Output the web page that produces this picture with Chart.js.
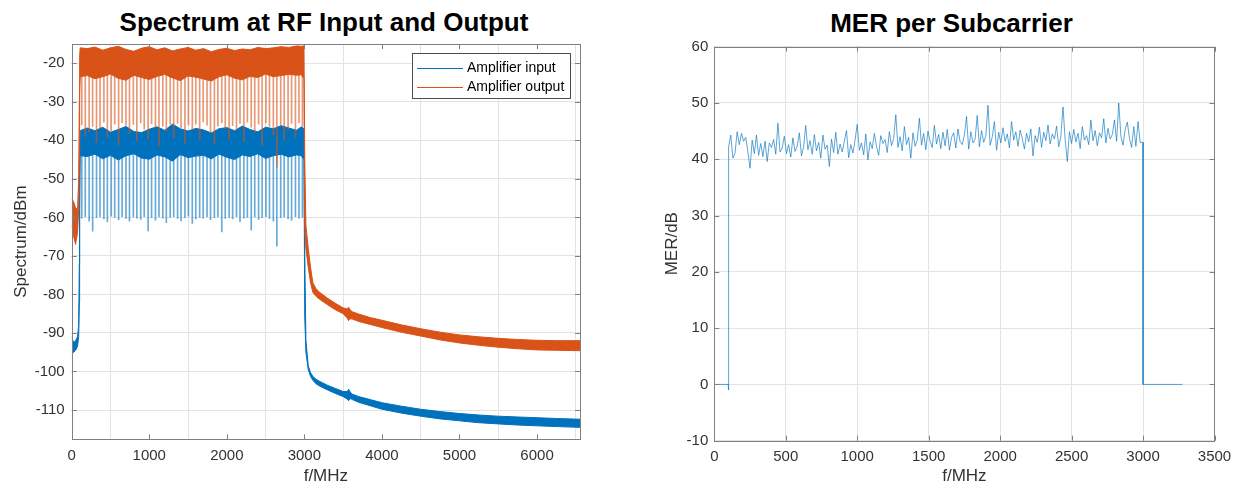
<!DOCTYPE html>
<html>

<head>
    <meta charset="UTF-8" />
    <title>Spectrum and MER</title>
    <style>
        body {
            margin: 0;
            background: #fff;
            width: 1239px;
            height: 487px;
            position: relative;
            overflow: hidden;
            font-family: "Liberation Sans", Arial, sans-serif;
        }
        .plotTitle {
            position: absolute;
            font-weight: bold;
            font-size: 26px;
            line-height: 1;
            color: #000;
            white-space: nowrap;
            transform: translate(-50%, -50%);
        }
        #specCanvas { position: absolute; left: 0; top: 0; }
        #merCanvas { position: absolute; left: 620px; top: 0; }
    </style>
</head>

<body>
    <div class="plotTitle" style="left:324px; top:21.7px;">Spectrum at RF Input and Output</div>
    <div class="plotTitle" style="left:951.5px; top:23.3px;">MER per Subcarrier</div>
    <canvas id="specCanvas" width="620" height="487"></canvas>
    <canvas id="merCanvas" width="619" height="487"></canvas>
    <script src="https://cdn.jsdelivr.net/npm/chart.js@4.4.1/dist/chart.umd.min.js"></script>
    <script>
        // ---- left plot: spectrum (dBm) ----
        const specXTicks = [0, 1000, 2000, 3000, 4000, 5000, 6000];
        const specYTicks = [-110, -100, -90, -80, -70, -60, -50, -40, -30, -20];

        // frequencies (MHz) where the band edges were read
        const specFreq = [0, 25, 50, 75, 90, 98, 102, 110,
            200, 300, 400, 500, 600, 700, 800, 900, 1000, 1100, 1200, 1300, 1400, 1500,
            1600, 1700, 1800, 1900, 2000, 2100, 2200, 2300, 2400, 2500, 2600, 2700, 2800, 2900,
            2960, 2995,
            3005, 3020, 3050, 3080, 3110, 3150, 3200, 3300, 3400, 3500, 3555, 3570, 3590, 3620,
            3700, 3850, 4000, 4250, 4500, 4750, 5000, 5250, 5500, 5750, 6000, 6250, 6554];

        // amplifier input: upper / lower edge of the trace
        const inputTop = [-91.0, -92.5, -92.0, -91.0, -88.0, -72.0, -45.0, -37.5,
            -36.8, -37.5, -36.6, -37.9, -37.2, -36.4, -37.7, -38.0, -37.1, -36.5, -37.4, -35.8, -37.0, -37.6,
            -36.9, -37.3, -38.1, -37.0, -36.7, -37.5, -36.3, -37.2, -37.8, -36.6, -37.0, -36.2, -36.8, -37.4,
            -36.5, -37.0,
            -70.0, -92.0, -98.5, -100.3, -101.3, -102.0, -102.6, -103.6, -104.4, -105.2, -105.2, -104.6, -105.3, -105.9,
            -106.5, -107.3, -108.1, -109.0, -109.8, -110.4, -110.9, -111.3, -111.6, -111.8, -112.0, -112.2, -112.4];
        const inputBottom = [-95.5, -95.0, -94.5, -93.5, -91.0, -82.0, -58.0, -44.0,
            -44.2, -43.6, -44.8, -43.9, -45.1, -44.0, -43.5, -44.6, -44.9, -43.8, -44.3, -45.4, -43.7, -44.5,
            -44.1, -43.9, -44.8, -43.6, -44.4, -45.0, -43.8, -44.2, -43.5, -44.7, -44.0, -43.6, -44.3, -43.8,
            -44.0, -45.0,
            -86.0, -95.0, -99.5, -101.3, -102.3, -103.2, -103.8, -104.8, -105.7, -106.5, -107.2, -107.6, -107.0, -107.3,
            -108.0, -108.9, -109.8, -110.8, -111.6, -112.3, -112.8, -113.3, -113.6, -113.9, -114.1, -114.3, -114.5];

        // amplifier output: upper / lower edge of the trace
        const outputTop = [-55.0, -56.0, -57.5, -58.0, -50.0, -30.0, -18.0, -16.0,
            -16.2, -15.8, -16.6, -16.0, -15.6, -16.4, -16.9, -16.1, -15.7, -16.5, -16.0, -16.8, -16.3, -15.9,
            -16.6, -16.2, -17.0, -16.4, -16.1, -16.7, -16.3, -16.5, -15.9, -16.2, -16.0, -15.7, -15.9, -15.5,
            -15.6, -15.5,
            -45.0, -62.0, -68.0, -73.0, -77.0, -78.5, -79.5, -81.0, -82.3, -83.5, -83.8, -83.3, -84.0, -84.5,
            -85.1, -86.0, -86.7, -87.9, -88.9, -89.8, -90.5, -91.0, -91.4, -91.7, -91.9, -92.0, -92.0];
        const outputBottom = [-62.0, -65.0, -67.0, -64.0, -58.0, -45.0, -28.0, -23.5,
            -23.2, -24.0, -23.5, -22.8, -23.9, -24.4, -23.1, -23.7, -24.2, -23.4, -22.9, -23.8, -24.5, -23.3,
            -23.6, -24.1, -24.6, -23.5, -23.0, -23.9, -24.3, -23.4, -23.7, -22.8, -23.5, -23.2, -22.9, -23.1,
            -23.0, -24.0,
            -62.0, -68.0, -73.0, -77.0, -79.5, -80.5, -81.3, -82.7, -84.0, -85.0, -86.2, -86.8, -86.3, -86.4,
            -87.0, -87.8, -88.6, -89.8, -90.8, -91.8, -92.6, -93.2, -93.7, -94.1, -94.4, -94.5, -94.6];

        // narrow notches inside the band
        const spikeFreq = [130, 175, 225, 270, 320, 365, 415, 460, 510, 555,
            605, 650, 700, 745, 795, 840, 890, 935, 985, 1030,
            1080, 1125, 1175, 1220, 1270, 1315, 1365, 1410, 1460, 1505,
            1555, 1600, 1650, 1695, 1745, 1790, 1840, 1885, 1935, 1980,
            2030, 2075, 2125, 2170, 2220, 2265, 2315, 2360, 2410, 2455,
            2505, 2550, 2600, 2645, 2695, 2740, 2790, 2835, 2885, 2930, 2975];
        const inputSpikeLow = [-60.2, -59.8, -61.0, -63.6, -60.1, -59.9, -60.4, -61.2, -59.7, -60.0,
            -60.6, -59.8, -60.3, -61.0, -59.9, -60.2, -60.5, -59.8, -63.5, -60.1,
            -60.7, -59.9, -60.2, -61.4, -60.0, -59.8, -60.3, -60.9, -60.1, -59.7,
            -61.6, -60.4, -60.0, -60.2, -59.8, -60.6, -60.1, -59.9, -63.8, -60.3,
            -60.0, -60.4, -59.8, -61.1, -60.2, -60.0, -63.3, -59.9, -60.5, -60.1,
            -59.8, -60.3, -61.0, -67.5, -60.1, -59.9, -60.4, -60.8, -59.8, -60.2, -60.0];
        const outputSpikeLow = [-36.0, -38.9, -37.8, -36.4, -40.6, -36.9, -35.3, -39.2, -37.5, -35.8,
            -41.2, -35.4, -36.1, -38.2, -35.9, -40.1, -35.5, -37.1, -39.6, -35.7,
            -36.8, -41.5, -36.4, -37.6, -35.9, -39.4, -35.6, -36.7, -40.8, -36.0,
            -37.3, -35.8, -39.9, -35.2, -36.1, -38.0, -41.0, -36.3, -35.5, -36.9,
            -39.7, -36.2, -37.4, -35.6, -40.4, -35.3, -36.6, -37.9, -35.8, -41.3,
            -35.5, -36.4, -38.7, -47.0, -36.2, -40.0, -37.2, -35.6, -39.1, -35.4, -36.3];

        const seriesNames = ['Amplifier input', 'Amplifier output'];

        // ---- right plot: MER per subcarrier (dB) ----
        const merXTicks = [0, 500, 1000, 1500, 2000, 2500, 3000, 3500];
        const merYTicks = [-10, 0, 10, 20, 30, 40, 50, 60];
        const merStartMHz = 100;
        const merStepMHz = 15;
        const merValues = [
            42.2, 44.3, 40.2, 41.1, 44.9, 42.6, 44.6, 43.2, 43.9, 41.3,
            38.4, 43.4, 41.0, 44.3, 40.7, 42.8, 40.5, 43.2, 39.6, 42.9,
            42.1, 43.5, 40.9, 46.4, 41.3, 42.0, 44.1, 41.0, 42.6, 40.4,
            43.8, 41.4, 42.3, 44.7, 40.6, 42.2, 46.0, 41.7, 43.3, 40.9,
            44.4, 41.5, 43.0, 40.2, 44.3, 41.8, 42.5, 38.7, 43.6, 41.2,
            44.8, 40.9, 42.7, 41.3, 43.2, 45.1, 40.3, 42.6, 41.1, 43.4,
            46.2, 41.6, 42.9, 40.8, 44.5, 39.9, 43.1, 41.9, 44.6, 42.3,
            40.7, 44.2, 42.8, 43.5, 41.2, 44.9, 42.4, 43.7, 47.9, 42.1,
            44.0, 41.5, 45.8, 42.6, 43.9, 40.2, 44.7, 42.3, 43.4, 47.3,
            42.5, 44.6, 41.7, 45.0, 43.2, 42.1, 46.0, 42.7, 44.4, 41.9,
            44.8, 42.4, 45.3, 41.6, 43.9, 44.7, 42.0, 45.4, 43.1, 42.6,
            44.3, 47.6, 41.8, 44.9, 42.9, 43.6, 47.8, 42.2, 45.1, 43.0,
            44.2, 49.6, 42.5, 44.0, 46.7, 41.6, 44.8, 42.9, 45.6, 43.2,
            44.5, 42.0, 46.7, 43.4, 44.9, 42.3, 45.2, 43.7, 41.8, 44.6,
            43.1, 45.4, 40.6, 44.2, 43.0, 45.7, 42.1, 44.8, 43.3, 46.1,
            42.7, 44.5, 43.6, 45.9, 42.2, 44.1, 49.3, 43.5, 39.6, 44.9,
            42.8, 45.3, 43.1, 44.6, 41.9, 45.8, 43.4, 44.2, 42.6, 47.0,
            43.3, 45.1, 42.4, 44.7, 43.8, 47.2, 42.9, 45.5, 43.6, 44.4,
            47.0, 43.2, 50.0, 44.1, 42.5, 45.3, 46.6, 43.7, 42.1, 45.8,
            42.3, 46.7, 43.0, 43.0];
        // unused subcarriers on both sides of the band
        const merLeftFreq = [0, 97, 100];
        const merLeftValues = [0, 0, -1];
        const merRightFreq = [3000, 3000, 3275];
        const merRightValues = [43, 0, 0];

        const BLUE = '#0072BD';
        const ORANGE = '#D95319';
        const FONT = '"Liberation Sans", Arial, sans-serif';

        Chart.defaults.font.family = FONT;
        Chart.defaults.color = '#333';

        function xy(xs, ys) {
            return xs.map((x, i) => ({ x: x, y: ys[i] }));
        }

        // box round the plot area with inward tick marks on all four sides
        const frameTicks = {
            id: 'frameTicks',
            afterDatasetsDraw(chart) {
                const { ctx, chartArea: a, scales } = chart;
                ctx.save();
                ctx.strokeStyle = '#808080';
                ctx.lineWidth = 1;
                ctx.beginPath();
                scales.x.ticks.forEach(t => {
                    const px = Math.round(scales.x.getPixelForValue(t.value)) + 0.5;
                    ctx.moveTo(px, a.bottom); ctx.lineTo(px, a.bottom - 5);
                    ctx.moveTo(px, a.top); ctx.lineTo(px, a.top + 5);
                });
                scales.y.ticks.forEach(t => {
                    const py = Math.round(scales.y.getPixelForValue(t.value)) + 0.5;
                    ctx.moveTo(a.left, py); ctx.lineTo(a.left + 5, py);
                    ctx.moveTo(a.right, py); ctx.lineTo(a.right - 5, py);
                });
                ctx.stroke();
                ctx.strokeRect(Math.round(a.left) + 0.5, Math.round(a.top) + 0.5,
                    Math.round(a.right - a.left), Math.round(a.bottom - a.top));
                ctx.restore();
            }
        };

        // matlab style legend box in the top right corner
        const boxLegend = {
            id: 'boxLegend',
            afterDraw(chart) {
                const { ctx, chartArea: a } = chart;
                const items = seriesNames.map(n => chart.data.datasets.find(d => d.label === n));
                const w = 158, h = 45;
                const x = Math.round(a.right - 10 - w), y = Math.round(a.top + 9);
                ctx.save();
                ctx.fillStyle = '#fff';
                ctx.fillRect(x, y, w, h);
                ctx.strokeStyle = '#4d4d4d';
                ctx.lineWidth = 1;
                ctx.strokeRect(x + 0.5, y + 0.5, w, h);
                ctx.font = '14px ' + FONT;
                ctx.textBaseline = 'middle';
                items.forEach((d, i) => {
                    const ly = y + 15.5 + i * 19;
                    ctx.strokeStyle = d.borderColor;
                    ctx.beginPath();
                    ctx.moveTo(x + 5, ly); ctx.lineTo(x + 51, ly);
                    ctx.stroke();
                    ctx.fillStyle = '#000';
                    ctx.fillText(d.label, x + 55, ly);
                });
                ctx.restore();
            }
        };

        function axisX(min, max, tickList, height, tickPad, titleText) {
            return {
                type: 'linear', min: min, max: max, offset: false,
                afterBuildTicks: s => { s.ticks = tickList.map(v => ({ value: v })); },
                afterFit: s => { s.height = height; },
                grid: { color: '#e3e3e3', drawTicks: false },
                border: { display: false },
                ticks: { padding: tickPad, font: { size: 15 }, color: '#333', maxRotation: 0, autoSkip: false,
                    callback: v => String(v) },
                title: { display: true, text: titleText, color: '#333', font: { size: 17 },
                    padding: { top: 0, bottom: 0 } }
            };
        }

        function axisY(min, max, tickList, width, tickPad, titleText, titlePad) {
            return {
                type: 'linear', min: min, max: max,
                afterBuildTicks: s => { s.ticks = tickList.map(v => ({ value: v })); },
                afterFit: s => { s.width = width; },
                grid: { color: '#e3e3e3', drawTicks: false },
                border: { display: false },
                ticks: { padding: tickPad, font: { size: 15 }, color: '#333', autoSkip: false,
                    callback: v => String(v) },
                title: { display: true, text: titleText, color: '#333', font: { size: 17 },
                    padding: { top: titlePad, bottom: 0 } }
            };
        }

        const specChart = new Chart(document.getElementById('specCanvas'), {
            type: 'line',
            data: {
                datasets: [
                    {
                        label: 'output notches', type: 'bar', order: 0,
                        data: spikeFreq.map((f, i) => ({ x: f, y: [-23, outputSpikeLow[i]] })),
                        backgroundColor: 'rgba(217, 83, 25, 0.6)', barThickness: 1, grouped: false
                    },
                    {
                        label: seriesNames[1], order: 1, data: xy(specFreq, outputTop),
                        borderColor: ORANGE, backgroundColor: ORANGE, borderWidth: 1,
                        pointRadius: 0, fill: '+1'
                    },
                    {
                        label: 'output lower edge', order: 1, data: xy(specFreq, outputBottom),
                        borderColor: ORANGE, borderWidth: 1, pointRadius: 0, fill: false
                    },
                    {
                        label: 'input notches', type: 'bar', order: 2,
                        data: spikeFreq.map((f, i) => ({ x: f, y: [-43, inputSpikeLow[i]] })),
                        backgroundColor: 'rgba(0, 114, 189, 0.6)', barThickness: 1, grouped: false
                    },
                    {
                        label: seriesNames[0], order: 3, data: xy(specFreq, inputTop),
                        borderColor: BLUE, backgroundColor: BLUE, borderWidth: 1,
                        pointRadius: 0, fill: '+1'
                    },
                    {
                        label: 'input lower edge', order: 3, data: xy(specFreq, inputBottom),
                        borderColor: BLUE, borderWidth: 1, pointRadius: 0, fill: false
                    }
                ]
            },
            options: {
                responsive: false, animation: false, events: [],
                layout: { padding: { left: 0, right: 40, top: 44, bottom: 0 } },
                plugins: { legend: { display: false }, tooltip: { enabled: false }, title: { display: false } },
                scales: {
                    x: axisX(0, 6554, specXTicks, 47.7, 8, 'f/MHz'),
                    y: axisY(-117.6, -15, specYTicks, 71.7, 7, 'Spectrum/dBm', 11.5)
                }
            },
            plugins: [frameTicks, boxLegend]
        });

        const merPoints = xy(merLeftFreq, merLeftValues)
            .concat(merValues.map((v, i) => ({ x: merStartMHz + i * merStepMHz, y: v })))
            .concat(xy(merRightFreq, merRightValues));

        const merChart = new Chart(document.getElementById('merCanvas'), {
            type: 'line',
            data: {
                datasets: [{
                    label: 'MER',
                    data: merPoints,
                    borderColor: 'rgba(0, 114, 189, 0.8)', borderWidth: 0.8, pointRadius: 0, fill: false
                }]
            },
            options: {
                responsive: false, animation: false, events: [],
                layout: { padding: { left: 0, right: 24.5, top: 46.7, bottom: 0 } },
                plugins: { legend: { display: false }, tooltip: { enabled: false }, title: { display: false } },
                scales: {
                    x: axisX(0, 3500, merXTicks, 46.3, 7, 'f/MHz'),
                    y: axisY(-10, 60, merYTicks, 94.3, 6, 'MER/dB', 41.8)
                }
            },
            plugins: [frameTicks]
        });
    </script>
</body>

</html>
